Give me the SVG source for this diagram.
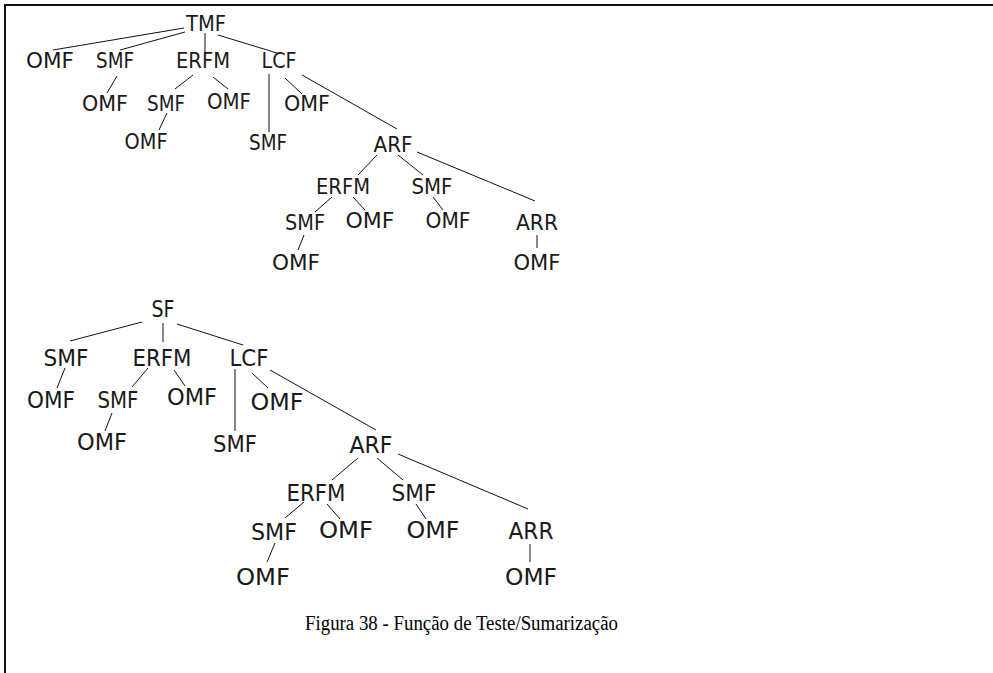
<svg xmlns="http://www.w3.org/2000/svg" width="993" height="673" viewBox="0 0 993 673">
  <style>
    .frame { stroke: #111; stroke-width: 2; fill: none; }
    .edge { stroke: #111; stroke-width: 1; fill: none; }
    .n { font-family: "DejaVu Sans", "Liberation Sans", sans-serif; font-size: 21px; fill: #1a1a1a; text-anchor: middle; }
    .b { font-size: 22.5px; }
    .cap { font-family: "Liberation Serif", "Times New Roman", serif; font-size: 20.5px; fill: #000; }
  </style>
  <rect width="993" height="673" fill="#fff"/>
  <!-- page frame: top and left rules -->
  <path class="frame" d="M5 673 V5 H993"/>

  <!-- connectors -->
  <g id="connectors" class="edge">
    <!-- upper tree -->
    <line x1="184" y1="28" x2="53" y2="50"/>
    <line x1="185" y1="32" x2="120" y2="50"/>
    <line x1="205" y1="33" x2="205" y2="52"/>
    <line x1="218" y1="35" x2="277" y2="53"/>
    <line x1="117" y1="76" x2="107" y2="93"/>
    <line x1="193" y1="75" x2="175" y2="89"/>
    <line x1="213" y1="77" x2="228" y2="89"/>
    <line x1="269" y1="74" x2="269" y2="132"/>
    <line x1="285" y1="78" x2="302" y2="94"/>
    <line x1="302" y1="75" x2="397" y2="129"/>
    <line x1="167" y1="113" x2="159" y2="130"/>
    <line x1="377" y1="155" x2="358" y2="175"/>
    <line x1="398" y1="155" x2="423" y2="175"/>
    <line x1="417" y1="152" x2="535" y2="201"/>
    <line x1="332" y1="197" x2="315" y2="212"/>
    <line x1="353" y1="197" x2="365" y2="210"/>
    <line x1="433" y1="197" x2="443" y2="210"/>
    <line x1="304" y1="235" x2="298" y2="250"/>
    <line x1="537" y1="235" x2="537" y2="248"/>
    <!-- lower tree -->
    <line x1="142" y1="322" x2="70" y2="341"/>
    <line x1="163" y1="323" x2="163" y2="342"/>
    <line x1="177" y1="324" x2="243" y2="345"/>
    <line x1="65" y1="368" x2="57" y2="388"/>
    <line x1="148" y1="368" x2="132" y2="387"/>
    <line x1="174" y1="370" x2="185" y2="386"/>
    <line x1="235" y1="369" x2="235" y2="431"/>
    <line x1="252" y1="373" x2="268" y2="388"/>
    <line x1="270" y1="370" x2="376" y2="430"/>
    <line x1="112" y1="413" x2="105" y2="431"/>
    <line x1="358" y1="458" x2="332" y2="480"/>
    <line x1="377" y1="458" x2="403" y2="480"/>
    <line x1="398" y1="454" x2="528" y2="509"/>
    <line x1="304" y1="502" x2="285" y2="518"/>
    <line x1="327" y1="504" x2="340" y2="519"/>
    <line x1="416" y1="504" x2="426" y2="519"/>
    <line x1="275" y1="543" x2="267" y2="562"/>
    <line x1="530" y1="544" x2="530" y2="562"/>
  </g>

  <!-- upper tree nodes -->
  <g id="tmf"><text class="n" x="206" y="31" textLength="40" lengthAdjust="spacingAndGlyphs">TMF</text></g>
  <g id="tmf-omf"><text class="n" x="50" y="68" textLength="48" lengthAdjust="spacingAndGlyphs">OMF</text></g>
  <g id="tmf-smf"><text class="n" x="115" y="68" textLength="38" lengthAdjust="spacingAndGlyphs">SMF</text></g>
  <g id="tmf-smf-omf"><text class="n" x="105" y="111" textLength="46" lengthAdjust="spacingAndGlyphs">OMF</text></g>
  <g id="tmf-erfm"><text class="n" x="203" y="68" textLength="54" lengthAdjust="spacingAndGlyphs">ERFM</text></g>
  <g id="tmf-erfm-smf"><text class="n" x="166" y="111" textLength="38" lengthAdjust="spacingAndGlyphs">SMF</text></g>
  <g id="tmf-erfm-smf-omf"><text class="n" x="146" y="149" textLength="43" lengthAdjust="spacingAndGlyphs">OMF</text></g>
  <g id="tmf-erfm-omf"><text class="n" x="229" y="109" textLength="44" lengthAdjust="spacingAndGlyphs">OMF</text></g>
  <g id="tmf-lcf"><text class="n" x="279" y="68" textLength="35" lengthAdjust="spacingAndGlyphs">LCF</text></g>
  <g id="tmf-lcf-smf"><text class="n" x="268" y="150" textLength="38" lengthAdjust="spacingAndGlyphs">SMF</text></g>
  <g id="tmf-lcf-omf"><text class="n" x="307" y="111" textLength="46" lengthAdjust="spacingAndGlyphs">OMF</text></g>
  <g id="tmf-arf"><text class="n" x="393" y="152" textLength="39" lengthAdjust="spacingAndGlyphs">ARF</text></g>
  <g id="tmf-arf-erfm"><text class="n" x="343" y="194" textLength="54" lengthAdjust="spacingAndGlyphs">ERFM</text></g>
  <g id="tmf-arf-erfm-smf"><text class="n" x="305" y="230" textLength="40" lengthAdjust="spacingAndGlyphs">SMF</text></g>
  <g id="tmf-arf-erfm-smf-omf"><text class="n" x="296" y="270" textLength="48" lengthAdjust="spacingAndGlyphs">OMF</text></g>
  <g id="tmf-arf-erfm-omf"><text class="n" x="370" y="228" textLength="49" lengthAdjust="spacingAndGlyphs">OMF</text></g>
  <g id="tmf-arf-smf"><text class="n" x="432" y="194" textLength="41" lengthAdjust="spacingAndGlyphs">SMF</text></g>
  <g id="tmf-arf-smf-omf"><text class="n" x="448" y="228" textLength="45" lengthAdjust="spacingAndGlyphs">OMF</text></g>
  <g id="tmf-arf-arr"><text class="n" x="537" y="230" textLength="42" lengthAdjust="spacingAndGlyphs">ARR</text></g>
  <g id="tmf-arf-arr-omf"><text class="n" x="537" y="270" textLength="47" lengthAdjust="spacingAndGlyphs">OMF</text></g>

  <!-- lower tree nodes -->
  <g id="sf"><text class="n b" x="163" y="317" textLength="23" lengthAdjust="spacingAndGlyphs">SF</text></g>
  <g id="sf-smf"><text class="n b" x="66" y="366" textLength="45" lengthAdjust="spacingAndGlyphs">SMF</text></g>
  <g id="sf-smf-omf"><text class="n b" x="51" y="408" textLength="48" lengthAdjust="spacingAndGlyphs">OMF</text></g>
  <g id="sf-erfm"><text class="n b" x="162" y="366" textLength="59" lengthAdjust="spacingAndGlyphs">ERFM</text></g>
  <g id="sf-erfm-smf"><text class="n b" x="118" y="408" textLength="41" lengthAdjust="spacingAndGlyphs">SMF</text></g>
  <g id="sf-erfm-smf-omf"><text class="n b" x="102" y="450" textLength="50" lengthAdjust="spacingAndGlyphs">OMF</text></g>
  <g id="sf-erfm-omf"><text class="n b" x="192" y="405" textLength="50" lengthAdjust="spacingAndGlyphs">OMF</text></g>
  <g id="sf-lcf"><text class="n b" x="249" y="366" textLength="39" lengthAdjust="spacingAndGlyphs">LCF</text></g>
  <g id="sf-lcf-smf"><text class="n b" x="235" y="452" textLength="44" lengthAdjust="spacingAndGlyphs">SMF</text></g>
  <g id="sf-lcf-omf"><text class="n b" x="277" y="410" textLength="53" lengthAdjust="spacingAndGlyphs">OMF</text></g>
  <g id="sf-arf"><text class="n b" x="371" y="453" textLength="43" lengthAdjust="spacingAndGlyphs">ARF</text></g>
  <g id="sf-arf-erfm"><text class="n b" x="316" y="501" textLength="59" lengthAdjust="spacingAndGlyphs">ERFM</text></g>
  <g id="sf-arf-erfm-smf"><text class="n b" x="274" y="540" textLength="46" lengthAdjust="spacingAndGlyphs">SMF</text></g>
  <g id="sf-arf-erfm-smf-omf"><text class="n b" x="263" y="585" textLength="54" lengthAdjust="spacingAndGlyphs">OMF</text></g>
  <g id="sf-arf-erfm-omf"><text class="n b" x="346" y="538" textLength="54" lengthAdjust="spacingAndGlyphs">OMF</text></g>
  <g id="sf-arf-smf"><text class="n b" x="414" y="501" textLength="45" lengthAdjust="spacingAndGlyphs">SMF</text></g>
  <g id="sf-arf-smf-omf"><text class="n b" x="433" y="538" textLength="53" lengthAdjust="spacingAndGlyphs">OMF</text></g>
  <g id="sf-arf-arr"><text class="n b" x="531" y="539" textLength="45" lengthAdjust="spacingAndGlyphs">ARR</text></g>
  <g id="sf-arf-arr-omf"><text class="n b" x="531" y="585" textLength="52" lengthAdjust="spacingAndGlyphs">OMF</text></g>

  <!-- caption -->
  <g id="caption"><text class="cap" x="305" y="630" textLength="313" lengthAdjust="spacingAndGlyphs">Figura 38 - Função de Teste/Sumarização</text></g>
</svg>
